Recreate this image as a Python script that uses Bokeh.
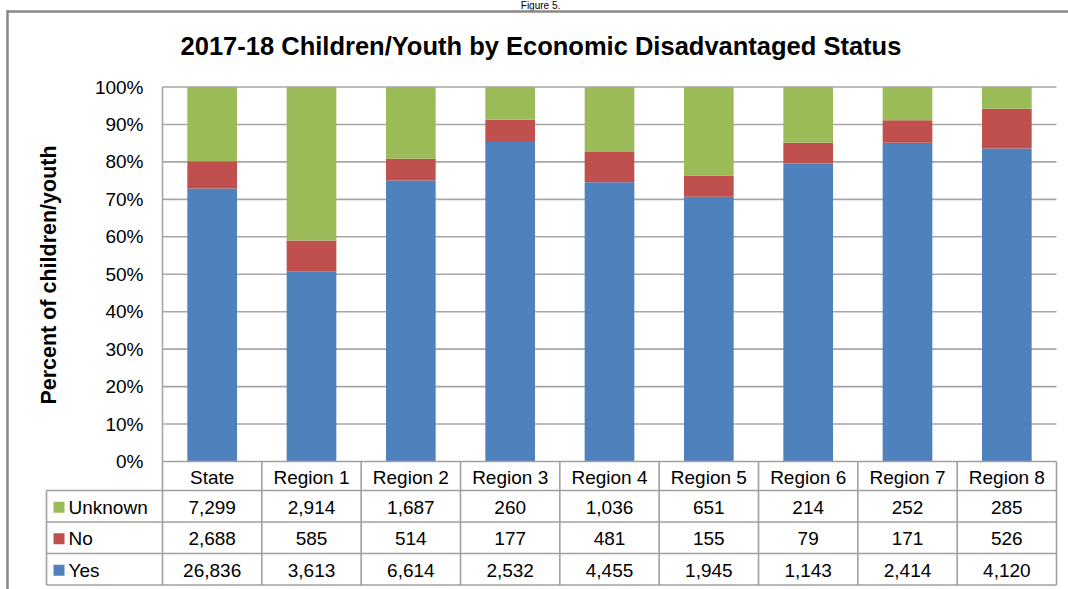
import math
from bokeh.plotting import figure
from bokeh.models import FixedTicker, NumeralTickFormatter, Range1d, ColumnDataSource
from bokeh.core.properties import value
from bokeh.embed import file_html
from bokeh.resources import INLINE

# ---------------- data ----------------
categories = ["State", "Region 1", "Region 2", "Region 3", "Region 4",
              "Region 5", "Region 6", "Region 7", "Region 8"]
yes_counts = [26836, 3613, 6614, 2532, 4455, 1945, 1143, 2414, 4120]
no_counts = [2688, 585, 514, 177, 481, 155, 79, 171, 526]
unknown_counts = [7299, 2914, 1687, 260, 1036, 651, 214, 252, 285]
series_names = ["Unknown", "No", "Yes"]
series_colors = ["#9BBB59", "#C0504D", "#4F81BD"]
tick_values = [0, 0.1, 0.2, 0.3, 0.4, 0.5, 0.6, 0.7, 0.8, 0.9, 1.0]
title_text = "2017-18  Children/Youth by Economic Disadvantaged Status"
y_label = "Percent of children/youth"
caption_text = "Figure 5."

# ---------------- layout (page pixels) ----------------
W, H = 1068, 589
OX, OY = 0, 0
PLOT_L, PLOT_R = 162, 1056
Y0, Y100 = 461, 86.5
n = len(categories)
col_w = (PLOT_R - PLOT_L) / n


def X(px):
    return -0.5 + (px - PLOT_L) / col_w


def Y(py):
    return (Y0 - py) / (Y0 - Y100)


FONT = value("Liberation Sans")
GRID_C = "#A6A6A6"
TABLE_C = "#A0A0A0"

p = figure(width=W, height=H, output_backend="svg", toolbar_location=None,
           x_range=Range1d(X(OX), X(OX + W)), y_range=Range1d(Y(OY + H), Y(OY)),
           x_axis_location=None, y_axis_location="left",
           min_border_left=0, min_border_right=0, min_border_top=0, min_border_bottom=0,
           outline_line_color=None, background_fill_color="white",
           border_fill_color="white")
p.xgrid.visible = False
p.ygrid.visible = False

yax = p.yaxis[0]
yax.ticker = FixedTicker(ticks=tick_values)
yax.formatter = NumeralTickFormatter(format="0%")
yax.axis_line_color = None
yax.major_tick_line_color = None
yax.minor_tick_line_color = None
yax.major_tick_out = 0
yax.major_tick_in = 0
yax.major_label_standoff = -(143 - OX)
yax.major_label_text_font = "Liberation Sans"
yax.major_label_text_font_size = "19px"
yax.major_label_text_color = "#000000"

# ---------------- gridlines ----------------
grid_y = tick_values[1:]
p.segment(x0=[-0.5] * len(grid_y), x1=[n - 0.5] * len(grid_y), y0=grid_y, y1=grid_y,
          line_color=GRID_C, line_width=1.6)

# ---------------- stacked 100% bars ----------------
idx = list(range(n))
totals = [a + b + c for a, b, c in zip(yes_counts, no_counts, unknown_counts)]
yes_pct = [a / t for a, t in zip(yes_counts, totals)]
no_pct = [b / t for b, t in zip(no_counts, totals)]
unk_pct = [c / t for c, t in zip(unknown_counts, totals)]
src = ColumnDataSource(dict(x=idx, yes=yes_pct, no=no_pct, unknown=unk_pct))
p.vbar_stack(["yes", "no", "unknown"], x="x", width=0.5, source=src,
             color=[series_colors[2], series_colors[1], series_colors[0]], line_color=None)

# ---------------- data table ----------------
HDR_T, HDR_B = Y0, 490
row_edges = [490, 521.5, 553, 584.5]
LEG_L = 46
# horizontal lines
p.segment(x0=[-0.5], x1=[n - 0.5], y0=[Y(HDR_T)], y1=[Y(HDR_T)], line_color=TABLE_C, line_width=1.6)
p.segment(x0=[X(LEG_L)] * len(row_edges), x1=[n - 0.5] * len(row_edges),
          y0=[Y(e) for e in row_edges], y1=[Y(e) for e in row_edges],
          line_color=TABLE_C, line_width=1.6)
# vertical lines
bounds = [k - 0.5 for k in range(n + 1)]
p.segment(x0=bounds, x1=bounds, y0=[Y(HDR_T)] * len(bounds), y1=[Y(row_edges[-1])] * len(bounds),
          line_color=TABLE_C, line_width=1.6)
p.segment(x0=[-0.5], x1=[-0.5], y0=[1.0], y1=[0.0], line_color=GRID_C, line_width=1.6)
p.segment(x0=[X(LEG_L)], x1=[X(LEG_L)], y0=[Y(row_edges[0])], y1=[Y(row_edges[-1])],
          line_color=TABLE_C, line_width=1.6)

# header text
p.text(x=idx, y=[Y((HDR_T + HDR_B) / 2 + 1)] * n, text=categories, text_font=FONT,
       text_font_size="19px", text_align="center", text_baseline="middle", text_color="#000000")

rows = [unknown_counts, no_counts, yes_counts]
for r, (name, col, vals) in enumerate(zip(series_names, series_colors, rows)):
    yc = Y((row_edges[r] + row_edges[r + 1]) / 2 + 1)
    p.text(x=idx, y=[yc] * n, text=[f"{v:,}" for v in vals], text_font=FONT,
           text_font_size="19px", text_align="center", text_baseline="middle", text_color="#000000")
    p.scatter(x=[X(58.5)], y=[yc], marker="square", size=11, fill_color=col, line_color=None)
    p.text(x=[X(68)], y=[yc], text=[name], text_font=FONT, text_font_size="19px",
           text_align="left", text_baseline="middle", text_color="#000000")

# ---------------- title, caption and axis label ----------------
p.text(x=[X(544)], y=[Y(45.5)], text=[title_text], text_font=FONT, text_font_style="bold",
       text_font_size="25.5px", text_align="center", text_baseline="middle", text_color="#000000")
p.text(x=[X(540)], y=[Y(5)], text=[caption_text], text_font=FONT,
       text_font_size="10px", text_align="center", text_baseline="middle", text_color="#000000")
p.text(x=[X(48)], y=[Y(274.5)], text=[y_label], angle=math.pi / 2, text_font=FONT,
       text_font_style="bold", text_font_size="21.5px", text_align="center",
       text_baseline="middle", text_color="#000000")

# ---------------- chart border ----------------
p.segment(x0=[X(7)], x1=[X(7)], y0=[Y(10)], y1=[Y(OY + H)], line_color="#898989", line_width=2.5)
p.segment(x0=[X(6)], x1=[X(OX + W)], y0=[Y(11)], y1=[Y(11)], line_color="#898989", line_width=2.5)

open("out.html", "w").write(file_html(p, INLINE))
